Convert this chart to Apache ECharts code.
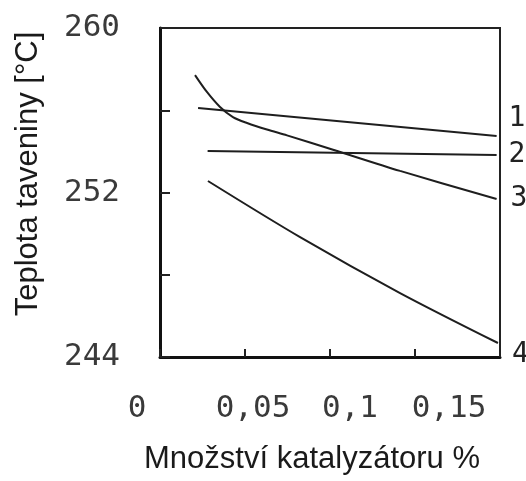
<!DOCTYPE html>
<html>
	<head>
		<meta charset="utf-8">
		<title></title>
		<script src="https://cdn.jsdelivr.net/npm/echarts@6/dist/echarts.min.js"></script>
	</head>
	<body style="margin: 0; overflow: hidden; background: #fff;">
		<div id="main" style="width: 526px; height: 481px;"></div>
		<script type="text/javascript">
			// data
			var xTicks = [0, 0.05, 0.1, 0.15];
			var xTickLabels = ['0', '0,05', '0,1', '0,15'];
			var yTickLabels = ['244', '252', '260'];

			var line1X = [0.0224, 0.198];
			var line1Y = [256.11, 254.75];
			var line2X = [0.028, 0.198];
			var line2Y = [254.02, 253.82];
			var line3X = [0.0206, 0.0276, 0.0353, 0.0429, 0.0512, 0.0629, 0.0747, 0.1018, 0.1412, 0.198];
			var line3Y = [257.71, 256.89, 256.16, 255.67, 255.38, 255.06, 254.78, 254.08, 253.05, 251.68];
			var line4X = [0.0282, 0.0824, 0.1412, 0.1988];
			var line4Y = [252.56, 249.83, 247.11, 244.68];

			var lineNames = ['1', '2', '3', '4'];

			function pairs(xs, ys) {
				return xs.map(function (x, i) { return [x, ys[i]]; });
			}

			var numFont = 'DejaVu Sans Mono';
			var numColor = '#3a3a3a';
			var ink = '#1e1e1e';

			// x labels in the scan sit a bit off their ticks
			var shift = [-23, 8, 20, 34];
			var rich = {};
			shift.forEach(function (d, i) {
				rich['s' + i] = {
					fontFamily: numFont,
					fontSize: 31,
					color: numColor,
					padding: d < 0 ? [0, -2 * d, 0, 0] : [0, 0, 0, 2 * d]
				};
			});

			function lineSeries(name, data, offset, smooth) {
				return {
					name: name,
					type: 'line',
					data: data,
					symbol: 'none',
					smooth: smooth || false,
					lineStyle: { color: ink, width: 2 },
					endLabel: {
						show: true,
						formatter: '{a}',
						offset: offset,
						fontFamily: numFont,
						fontSize: 28,
						color: '#222'
					}
				};
			}

			var myChart = echarts.init(document.getElementById('main'));
			var option = {
				animation: false,
				grid: {
					left: 160,
					right: 26,
					top: 28,
					bottom: 124,
					show: true,
					borderColor: '#222',
					borderWidth: 2
				},
				xAxis: {
					type: 'value',
					min: 0,
					max: 0.2,
					interval: 0.05,
					axisLine: { show: true, lineStyle: { color: '#111', width: 3 } },
					axisTick: { show: true, inside: true, length: 8, lineStyle: { color: '#222', width: 2 } },
					splitLine: { show: false },
					axisLabel: {
						margin: 36,
						formatter: function (v) {
							var i = xTicks.findIndex(function (t) { return Math.abs(t - v) < 1e-6; });
							return i < 0 ? '' : '{s' + i + '|' + xTickLabels[i] + '}';
						},
						rich: rich
					}
				},
				yAxis: {
					type: 'value',
					min: 244,
					max: 260,
					interval: 4,
					axisLine: { show: true, lineStyle: { color: '#111', width: 3 } },
					axisTick: { show: true, inside: true, length: 10, lineStyle: { color: '#222', width: 2 } },
					splitLine: { show: false },
					axisLabel: {
						margin: 40,
						fontFamily: numFont,
						fontSize: 31,
						color: numColor,
						formatter: function (v) {
							var s = String(v);
							return yTickLabels.indexOf(s) >= 0 ? s : '';
						}
					}
				},
				graphic: [
					{
						type: 'text',
						x: 28,
						y: 174,
						rotation: Math.PI / 2,
						style: {
							text: 'Teplota taveniny [°C]',
							fontFamily: 'Liberation Sans',
							fontSize: 31,
							fill: '#1a1a1a',
							align: 'center',
							verticalAlign: 'middle'
						}
					},
					{
						type: 'text',
						x: 312,
						y: 459,
						style: {
							text: 'Množství katalyzátoru %',
							fontFamily: 'Liberation Sans',
							fontSize: 31,
							fill: '#1a1a1a',
							align: 'center',
							verticalAlign: 'middle'
						}
					}
				],
				series: [
					lineSeries(lineNames[0], pairs(line1X, line1Y), [4, -17]),
					lineSeries(lineNames[1], pairs(line2X, line2Y), [4, 0]),
					lineSeries(lineNames[2], pairs(line3X, line3Y), [6, 0], 0.3),
					lineSeries(lineNames[3], pairs(line4X, line4Y), [6, 12], 0.3)
				]
			};
			myChart.setOption(option);
		</script>
	</body>
</html>
